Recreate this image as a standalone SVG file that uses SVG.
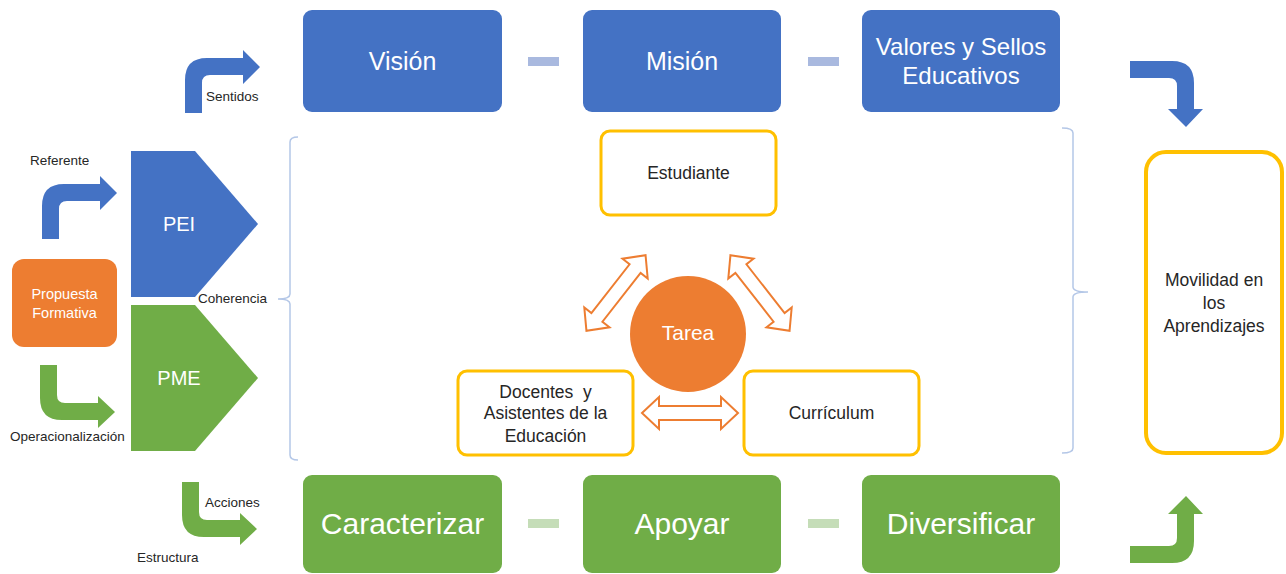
<svg xmlns="http://www.w3.org/2000/svg" width="1286" height="574" viewBox="0 0 1286 574">
<style>
text{font-family:"Liberation Sans",Arial,sans-serif}
.w{fill:#fff}
.d{fill:#262626}
.lbl{font-size:13.5px;fill:#262626}
.blue{fill:#4472C4}
.green{fill:#70AD47}
.orange{fill:#ED7D31}
.ybox{fill:#fff;stroke:#FFC000;stroke-width:3}
.brace{fill:none;stroke:#B4C7E7;stroke-width:1.5}
.dbl{fill:#fff;stroke:#ED7D31;stroke-width:2;stroke-linejoin:miter}
</style>
<defs>
<path id="dbl" d="M-48,0 L-31,-16 L-31,-7 L31,-7 L31,-16 L48,0 L31,16 L31,7 L-31,7 L-31,16 Z"/>
</defs>
<rect width="1286" height="574" fill="#fff"/>

<g id="connectors">
  <!-- bent arrows -->
  <path class="blue" d="M185,113 L185,80 Q185,58 207,58 L243,58 L243,50 L260,67 L243,84 L243,75 L210,75 Q202,75 202,83 L202,113 Z"/>
  <path class="blue" transform="translate(-143,126)" d="M185,113 L185,80 Q185,58 207,58 L243,58 L243,50 L260,67 L243,84 L243,75 L210,75 Q202,75 202,83 L202,113 Z"/>
  <path class="green" d="M40,365 L40,398 Q40,420 62,420 L98,420 L98,428 L115,412 L98,396 L98,403 L65,403 Q57,403 57,395 L57,365 Z"/>
  <path class="green" transform="translate(142,117)" d="M40,365 L40,398 Q40,420 62,420 L98,420 L98,428 L115,412 L98,396 L98,403 L65,403 Q57,403 57,395 L57,365 Z"/>
  <path class="blue" d="M1130,61 L1172,61 Q1194,61 1194,83 L1194,109 L1203,109 L1186,127 L1168,109 L1177,109 L1177,86 Q1177,78 1169,78 L1130,78 Z"/>
  <path class="green" d="M1130,563 L1172,563 Q1194,563 1194,541 L1194,514 L1203,514 L1186,496 L1168,514 L1177,514 L1177,538 Q1177,546 1169,546 L1130,546 Z"/>
  <!-- dashes between boxes -->
  <rect x="528" y="57" width="31" height="9" fill="#A9B9DF"/>
  <rect x="808" y="57" width="31" height="9" fill="#A9B9DF"/>
  <rect x="528" y="519" width="31" height="9" fill="#C5DDB8"/>
  <rect x="808" y="519" width="31" height="9" fill="#C5DDB8"/>
  <!-- braces -->
  <path class="brace" d="M298,137 Q290,137 290,142 L290,294 Q290,299 278,299 Q290,299 290,304 L290,455 Q290,460 298,460"/>
  <path class="brace" d="M1062,128 Q1073,128 1073,133 L1073,287 Q1073,292 1088,292 Q1073,292 1073,297 L1073,448 Q1073,453 1062,453"/>
  <!-- double arrows -->
  <use href="#dbl" class="dbl" transform="translate(616,293) rotate(-52)"/>
  <use href="#dbl" class="dbl" transform="translate(760,293) rotate(52)"/>
  <use href="#dbl" class="dbl" transform="translate(690,413)"/>
</g>

<g id="labels">
  <text class="lbl" x="206" y="101">Sentidos</text>
  <text class="lbl" x="30" y="165">Referente</text>
  <text class="lbl" x="198" y="303">Coherencia</text>
  <text class="lbl" x="10" y="441">Operacionalización</text>
  <text class="lbl" x="205" y="507">Acciones</text>
  <text class="lbl" x="137" y="562">Estructura</text>
</g>

<g id="vision"><rect class="blue" x="303" y="10" width="199" height="102" rx="9"/><text class="w" x="402.5" y="70" font-size="25" text-anchor="middle">Visión</text></g>
<g id="mision"><rect class="blue" x="583" y="10" width="198" height="102" rx="9"/><text class="w" x="682" y="70" font-size="25" text-anchor="middle">Misión</text></g>
<g id="valores"><rect class="blue" x="862" y="10" width="198" height="102" rx="9"/><text class="w" x="961" y="55" font-size="24" text-anchor="middle">Valores y Sellos</text><text class="w" x="961" y="84" font-size="24" text-anchor="middle">Educativos</text></g>

<g id="caracterizar"><rect class="green" x="303" y="475" width="199" height="98" rx="9"/><text class="w" x="402.5" y="534" font-size="30" text-anchor="middle">Caracterizar</text></g>
<g id="apoyar"><rect class="green" x="583" y="475" width="198" height="98" rx="9"/><text class="w" x="682" y="534" font-size="30" text-anchor="middle">Apoyar</text></g>
<g id="diversificar"><rect class="green" x="862" y="475" width="198" height="98" rx="9"/><text class="w" x="961" y="534" font-size="30" text-anchor="middle">Diversificar</text></g>

<g id="pei"><path class="blue" d="M131,151 L195,151 L258,224 L195,297 L131,297 Z"/><text class="w" x="179" y="231" font-size="20" text-anchor="middle">PEI</text></g>
<g id="pme"><path class="green" d="M131,305 L195,305 L258,378 L195,451 L131,451 Z"/><text class="w" x="179" y="385" font-size="20" text-anchor="middle">PME</text></g>

<g id="propuesta"><rect class="orange" x="12" y="259" width="105" height="88" rx="12"/><text class="w" x="64.5" y="299" font-size="14.5" text-anchor="middle">Propuesta</text><text class="w" x="64.5" y="318" font-size="14.5" text-anchor="middle">Formativa</text></g>

<g id="estudiante"><rect class="ybox" x="601" y="131" width="175" height="84" rx="9"/><text class="d" x="688.5" y="179" font-size="17.5" text-anchor="middle">Estudiante</text></g>
<g id="docentes"><rect class="ybox" x="458" y="371" width="175" height="84" rx="9"/><text class="d" x="545.5" y="398" font-size="17.5" text-anchor="middle" xml:space="preserve">Docentes  y</text><text class="d" x="545.5" y="419" font-size="17.5" text-anchor="middle">Asistentes de la</text><text class="d" x="545.5" y="442" font-size="17.5" text-anchor="middle">Educación</text></g>
<g id="curriculum"><rect class="ybox" x="744" y="371" width="175" height="84" rx="9"/><text class="d" x="831.5" y="419" font-size="17.5" text-anchor="middle">Currículum</text></g>
<g id="tarea"><circle class="orange" cx="688" cy="334" r="58"/><text class="w" x="688" y="340" font-size="21" text-anchor="middle">Tarea</text></g>

<g id="movilidad"><rect x="1146" y="152" width="136" height="301" rx="20" fill="#fff" stroke="#FFC000" stroke-width="4"/><text class="d" x="1214" y="286" font-size="17.5" text-anchor="middle">Movilidad en</text><text class="d" x="1214" y="309" font-size="17.5" text-anchor="middle">los</text><text class="d" x="1214" y="332" font-size="17.5" text-anchor="middle">Aprendizajes</text></g>
</svg>
